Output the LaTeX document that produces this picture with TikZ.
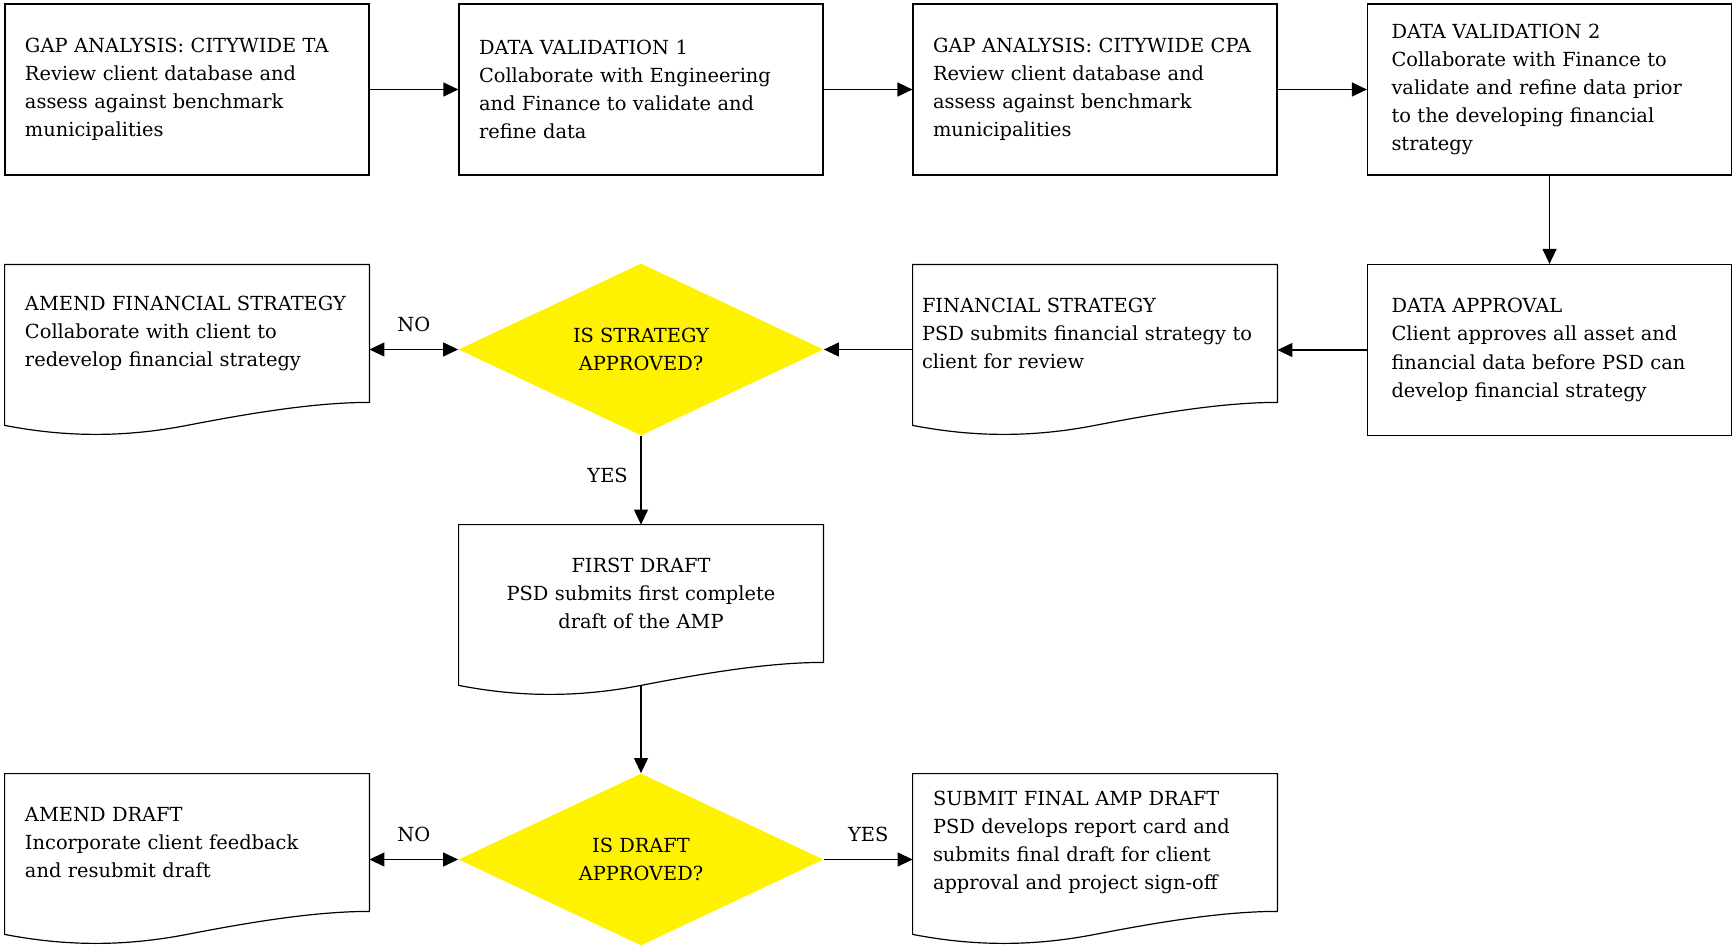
\documentclass[tikz,border=0pt]{standalone}
\usepackage{fontspec}
\setmainfont{DejaVu Serif}
\usetikzlibrary{shapes.geometric,arrows.meta,calc}

\tikzset{
  box/.style={draw, line width=0.6pt, rectangle, align=left, text width=162pt, inner xsep=10pt, inner ysep=0pt, minimum height=85.5pt},
  docbox/.style={rectangle, align=left, text width=162pt, inner xsep=10pt, inner ysep=0pt, minimum height=68.5pt},
  decision/.style={diamond, aspect=2, fill=yellow, align=center, inner sep=0pt, minimum width=182.5pt, minimum height=86pt},
  docline/.style={line width=0.6pt},
  arr/.style={-{Triangle[length=7.5pt,width=7pt]}, line width=0.6pt},
  dblarr/.style={{Triangle[length=7.5pt,width=7pt]}-{Triangle[length=7.5pt,width=7pt]}, line width=0.6pt}
}

% outline of a document box with a wavy bottom
\newcommand{\docoutline}[1]{%
  \draw[docline] (#1.north west) -- (#1.north east) -- (#1.south east)
    .. controls ($(#1.south east)+(-55,0)$) and ($(#1.south)+(62,11)$) .. ($(#1.south)+(0,23)$)
    .. controls ($(#1.south)+(-62,35)$) and ($(#1.south west)+(62,35)$) .. ($(#1.south west)+(0,23)$)
    -- cycle;}

\begin{document}
\begin{tikzpicture}[x=0.5pt,y=-0.5pt,font=\fontsize{9.7}{14.1}\selectfont]
	\useasboundingbox (0,0) rectangle (1735,946);

	% Row 1
	\node[box] (gapta) at (187,89.5) {GAP ANALYSIS: CITYWIDE TA\\Review client database and\\assess against benchmark\\municipalities};
	\node[box] (valone) at (641,89.5) {DATA VALIDATION 1\\Collaborate with Engineering\\and Finance to validate and\\refine data};
	\node[box] (gapcpa) at (1095,89.5) {GAP ANALYSIS: CITYWIDE CPA\\Review client database and\\assess against benchmark\\municipalities};
	\node[box, inner xsep=12pt, text width=158pt] (valtwo) at (1549.5,89.5) {DATA VALIDATION 2\\Collaborate with Finance to\\validate and refine data prior\\to the developing financial\\strategy};

	% Row 2
	\node[docbox] (amendfs) at (187,333.5) {AMEND FINANCIAL STRATEGY\\Collaborate with client to\\redevelop financial strategy};
	\node[decision] (strategyok) at (641,349.5) {IS STRATEGY\\APPROVED?};
	\node[docbox, inner xsep=4.5pt, text width=173pt] (finstrat) at (1095,333.5) {FINANCIAL STRATEGY\\PSD submits financial strategy to\\client for review};
	\node[box, inner xsep=12pt, text width=158pt] (dataok) at (1549.5,350) {DATA APPROVAL\\Client approves all asset and\\financial data before PSD can\\develop financial strategy};

	% Row 3
	\node[docbox, align=center] (firstdraft) at (641,593.5) {FIRST DRAFT\\PSD submits first complete\\draft of the AMP};

	% Row 4
	\node[docbox] (amenddraft) at (187,842.5) {AMEND DRAFT\\Incorporate client feedback\\and resubmit draft};
	\node[decision] (draftok) at (641,859.5) {IS DRAFT\\APPROVED?};
	\node[docbox] (final) at (1095,842.5) {SUBMIT FINAL AMP DRAFT\\PSD develops report card and\\submits final draft for client\\approval and project sign-off};

	% document outlines
	\docoutline{amendfs}
	\docoutline{finstrat}
	\docoutline{firstdraft}
	\docoutline{amenddraft}
	\docoutline{final}

	% Connectors
	\draw[arr] (gapta) -- (valone);
	\draw[arr] (valone) -- (gapcpa);
	\draw[arr] (gapcpa) -- (valtwo);
	\draw[arr] (valtwo) -- (dataok);
	\draw[arr] (dataok.west) -- (dataok.west -| finstrat.east);
	\draw[arr] (strategyok.east -| finstrat.west) -- (strategyok.east);
	\draw[dblarr] (strategyok.west) -- (strategyok.west -| amendfs.east) node[midway, above=5pt] {NO}; % No loop
	\draw[arr] (strategyok.south) -- (firstdraft.north) node[pos=0.45, left=3pt] {YES};
	\draw[arr] ($(firstdraft.south)+(0,23)$) -- (draftok.north);
	\draw[dblarr] (draftok.west) -- (draftok.west -| amenddraft.east) node[midway, above=5pt] {NO}; % No loop
	\draw[arr] (draftok.east) -- (draftok.east -| final.west) node[midway, above=5pt] {YES};

\end{tikzpicture}
\end{document}
